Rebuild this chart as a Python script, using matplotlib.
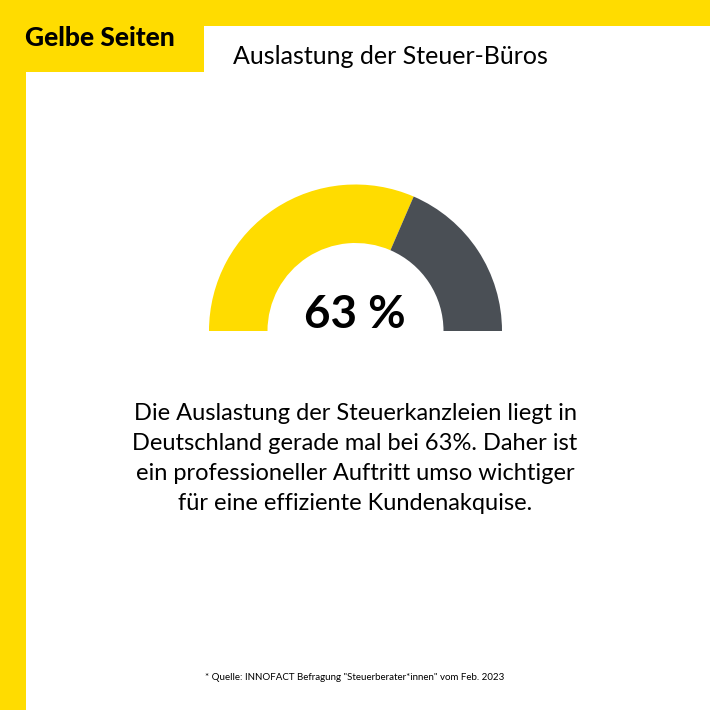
import numpy as np
import matplotlib
matplotlib.use("Agg")
import matplotlib.pyplot as plt
from matplotlib.patches import Rectangle, Wedge

plt.rcParams['font.family'] = ['Lato', 'DejaVu Sans']

categories = ["Ausgelastet", "Nicht ausgelastet"]
values = [63, 37]
colors = ["#FFDC00", "#4A4F55"]
brand = "Gelbe Seiten"
title = "Auslastung der Steuer-Büros"
center_label = "63 %"
body_lines = ["Die Auslastung der Steuerkanzleien liegt in",
              "Deutschland gerade mal bei 63%. Daher ist",
              "ein professioneller Auftritt umso wichtiger",
              "für eine effiziente Kundenakquise."]
source = '* Quelle: INNOFACT Befragung "Steuerberater*innen" vom Feb. 2023'

fig = plt.figure(figsize=(7.1, 7.1), dpi=100, facecolor="white")
ax = fig.add_axes([0, 0, 1, 1])
ax.set_xlim(0, 710)
ax.set_ylim(710, 0)
ax.axis("off")

yellow = colors[0]
ax.add_patch(Rectangle((0, 0), 710, 26, color=yellow, lw=0))
ax.add_patch(Rectangle((0, 0), 26, 710, color=yellow, lw=0))
ax.add_patch(Rectangle((0, 0), 191, 72, color=yellow, lw=0))
ax.add_patch(Rectangle((191, 0), 13, 72, color=yellow, lw=0))

cx, cy, r_out, r_in = 355.5, 331, 146.5, 88
total = sum(values)
start = 180.0
for v, c in zip(values, colors):
    sweep = 180.0 * v / total
    ax.add_patch(Wedge((cx, cy), r_out, start, start + sweep, width=r_out - r_in, color=c, lw=0))
    start += sweep

ax.text(25, 38, brand, fontsize=19, fontweight="black", va="center", ha="left", color="black")
ax.text(233, 56, title, fontsize=18, va="center", ha="left", color="black")
ax.text(355, 315, center_label, fontsize=33, fontweight="bold", va="center", ha="center", color="black")
for y, line in zip([414, 444, 473, 503], body_lines):
    ax.text(355, y, line, fontsize=17, va="center", ha="center", color="black")
ax.text(355, 677, source, fontsize=7, va="center", ha="center", color="black")

fig.savefig("out.png", dpi=100)
